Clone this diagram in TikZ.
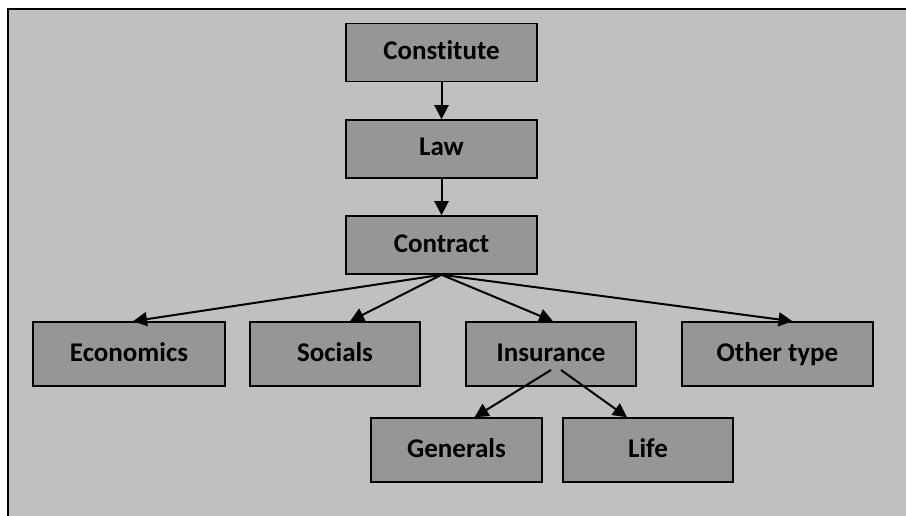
\documentclass[tikz,border=0pt]{standalone}
\usepackage{fontspec}
\setmainfont[Ligatures={NoCommon}]{Carlito}
\usetikzlibrary{arrows.meta,calc}
\definecolor{bggray}{HTML}{C0C0C0}
\definecolor{boxgray}{HTML}{969696}
\begin{document}
\begin{tikzpicture}[x=1pt,y=-1pt,
  box/.style={draw=black, line width=1.5pt, fill=boxgray, inner sep=0pt,
    minimum height=64pt, text height=19pt, text depth=5pt,
    font=\fontsize{27}{31}\selectfont\bfseries},
  topbox/.style={box, minimum width=191pt, minimum height=58pt},
  arr/.style={draw=black, line width=2pt, -{Triangle[length=14pt,width=14pt]}}]
\useasboundingbox (0,0) rectangle (906,516);
\fill[bggray] (8,9) rectangle (906,516);
\draw[line width=1.5pt] (8,516) -- (8,9) -- (906,9);

\node[topbox] (con) at (441.5,52.5) {Constitute};
\node[topbox] (law) at (441.5,149) {Law};
\node[topbox] (ctr) at (441.5,245) {Contract};

\node[box, minimum width=192pt] (eco) at (129,354) {Economics};
\node[box, minimum width=170pt] (soc) at (335,354) {Socials};
\node[box, minimum width=170pt] (ins) at (551,354) {Insurance};
\node[box, minimum width=191pt] (oth) at (777.5,354) {Other type};

\node[box, minimum width=171pt] (gen) at (456.5,450) {Generals};
\node[box, minimum width=170pt] (life) at (648,450) {Life};

\draw[arr] (con.south) -- (law.north);
\draw[arr] (law.south) -- (ctr.north);

\draw[arr] (ctr.south) -- ($(eco.north)+(4,0)$);
\draw[arr] (ctr.south) -- ($(soc.north)+(15,0)$);
\draw[arr] (ctr.south) -- ($(ins.north)+(2,0)$);
\draw[arr] (ctr.south) -- ($(oth.north)+(15,0)$);

\draw[arr] ($(ins.center)+(0,16)$) -- ($(gen.north)+(18,0)$);
\draw[arr] ($(ins.center)+(10,16)$) -- ($(life.north)+(-21,0)$);
\end{tikzpicture}
\end{document}
